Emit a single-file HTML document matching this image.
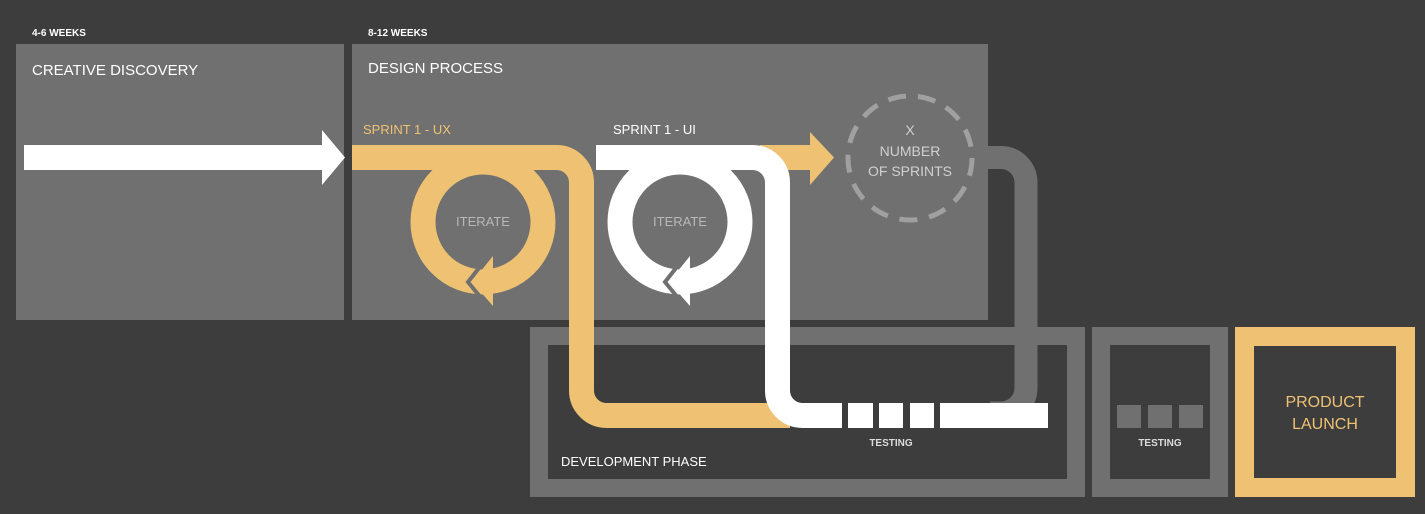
<!DOCTYPE html>
<html><head><meta charset="utf-8"><style>
html,body{margin:0;padding:0;background:#3d3d3d;}
svg{display:block;}
text{font-family:"Liberation Sans",sans-serif;}
</style></head><body>
<svg width="1425" height="514" viewBox="0 0 1425 514" xmlns="http://www.w3.org/2000/svg">
<rect width="1425" height="514" fill="#3d3d3d"/>
<rect x="16" y="44" width="328" height="276" fill="#707070"/>
<rect x="352" y="44" width="636" height="276" fill="#707070"/>
<text x="32" y="36" font-size="10" font-weight="bold" fill="#fff">4-6 WEEKS</text>
<text x="368" y="36" font-size="10" font-weight="bold" fill="#fff">8-12  WEEKS</text>
<text x="32" y="75" font-size="15" fill="#fff">CREATIVE DISCOVERY</text>
<text x="368" y="73" font-size="15" fill="#fff">DESIGN PROCESS</text>
<rect x="539" y="336" width="537" height="152" fill="none" stroke="#707070" stroke-width="18"/>
<rect x="1101" y="336" width="118" height="152" fill="none" stroke="#707070" stroke-width="18"/>
<rect x="1244.5" y="336.5" width="161" height="151" fill="none" stroke="#efc273" stroke-width="19"/>
<text x="561" y="466" font-size="13" fill="#fff">DEVELOPMENT PHASE</text>
<text x="891" y="446" font-size="10" font-weight="bold" fill="#ddd" text-anchor="middle">TESTING</text>
<text x="1160" y="446" font-size="10" font-weight="bold" fill="#ddd" text-anchor="middle">TESTING</text>
<text x="1325" y="407" font-size="16" fill="#efc273" text-anchor="middle">PRODUCT</text>
<text x="1325" y="429" font-size="16" fill="#efc273" text-anchor="middle">LAUNCH</text>
<rect x="1117" y="405" width="24" height="23" fill="#707070"/>
<rect x="1148" y="405" width="24" height="23" fill="#707070"/>
<rect x="1179" y="405" width="24" height="23" fill="#707070"/>
<polygon points="24,145 322,145 322,130 345,157.5 322,185 322,170 24,170" fill="#fff"/>
<path d="M988,157.5 H1001 A25,25 0 0 1 1026,182.5 V388 A25,25 0 0 1 1001,413 H990" fill="none" stroke="#707070" stroke-width="23"/>
<polygon points="760,145 810,145 810,132 834,157.5 810,185 810,170 760,170" fill="#efc273"/>
<circle cx="483" cy="222" r="60" fill="none" stroke="#efc273" stroke-width="25"/>
<polyline points="490,254 468,282 486,304" fill="none" stroke="#707070" stroke-width="4"/>
<polygon points="472,282 493,256 493,306" fill="#efc273"/>
<path d="M352,157.5 H556.5 A25,25 0 0 1 581.5,182.5 V390.5 A25,25 0 0 0 606.5,415.5 H790" fill="none" stroke="#efc273" stroke-width="25"/>
<circle cx="680" cy="222" r="60" fill="none" stroke="#fff" stroke-width="25"/>
<polyline points="687,254 665,282 683,304" fill="none" stroke="#707070" stroke-width="4"/>
<polygon points="669,282 690,256 690,306" fill="#fff"/>
<path d="M596,157.5 H752.5 A25,25 0 0 1 777.5,182.5 V390.5 A25,25 0 0 0 802.5,415.5 H842" fill="none" stroke="#fff" stroke-width="25"/>
<rect x="848" y="403" width="25" height="25" fill="#fff"/>
<rect x="879" y="403" width="24" height="25" fill="#fff"/>
<rect x="910" y="403" width="24" height="25" fill="#fff"/>
<rect x="940" y="403" width="108" height="25" fill="#fff"/>
<circle cx="910" cy="158" r="62" fill="none" stroke="#a0a0a0" stroke-width="5" stroke-dasharray="18,12"/>
<text x="910" y="135" font-size="14" fill="#d0d0d0" text-anchor="middle">X</text>
<text x="910" y="156" font-size="14" fill="#d0d0d0" text-anchor="middle">NUMBER</text>
<text x="910" y="176" font-size="14" fill="#d0d0d0" text-anchor="middle">OF SPRINTS</text>
<text x="363" y="134" font-size="13" fill="#efc273">SPRINT 1 - UX</text>
<text x="613" y="134" font-size="13" fill="#fff">SPRINT 1 - UI</text>
<text x="483" y="226" font-size="13" fill="#b8b8b8" text-anchor="middle">ITERATE</text>
<text x="680" y="226" font-size="13" fill="#b8b8b8" text-anchor="middle">ITERATE</text>
</svg>
</body></html>
